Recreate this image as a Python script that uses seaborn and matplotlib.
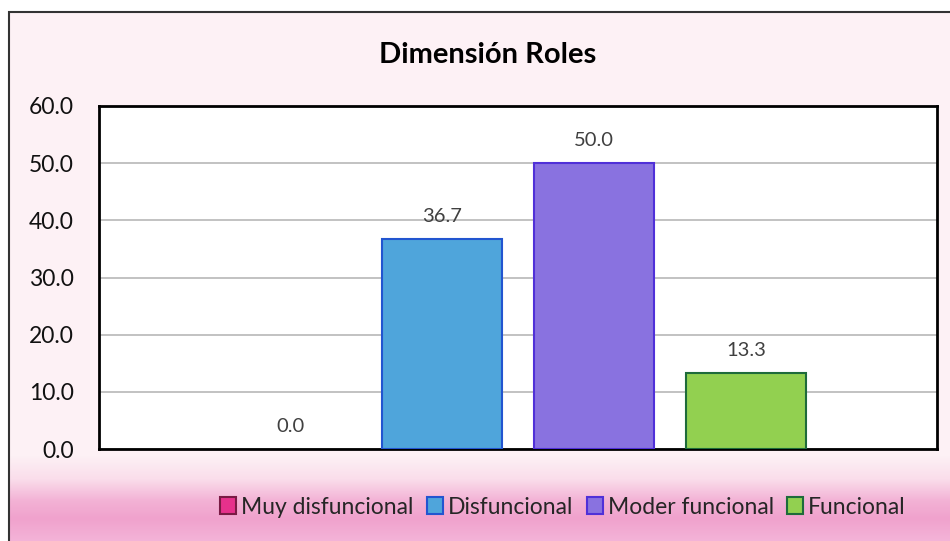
import numpy as np
import matplotlib.pyplot as plt
import seaborn as sns
from matplotlib.patches import Patch, Rectangle
from matplotlib.ticker import FormatStrFormatter

# datos
categorias = ["Muy disfuncional", "Disfuncional", "Moder funcional", "Funcional"]
porcentajes = [0.0, 36.7, 50.0, 13.3]
colores = ["#E6318C", "#4FA5DB", "#8972E0", "#92D050"]
bordes = ["#7A1A45", "#2255D0", "#5030D8", "#1E6B3A"]
ticks_y = [0, 10, 20, 30, 40, 50, 60]
titulo = "Dimensión Roles"

sns.set_style("white")
plt.rcParams['font.family'] = ['Lato', 'DejaVu Sans']

W, H = 950, 541
fig = plt.figure(figsize=(W / 100, H / 100), dpi=100)

# fondo rosado con degradado abajo
bg = fig.add_axes([9 / W, 0, 1, (H - 12) / H], zorder=0)
filas = np.arange(12, H)
stops_y = [12, 455, 478, 500, 518, 541]
stops_c = np.array([[253, 241, 245], [253, 241, 245], [250, 222, 235],
                    [243, 178, 213], [240, 162, 205], [244, 180, 216]]) / 255
grad = np.stack([np.interp(filas, stops_y, stops_c[:, i]) for i in range(3)], axis=1)
bg.imshow(grad[:, None, :], aspect='auto', extent=[0, 1, 0, 1])
bg.axis('off')
fig.add_artist(Rectangle((9 / W, -0.05), 1.2, 1 - 12 / H + 0.05, transform=fig.transFigure,
                         fill=False, edgecolor='#333333', lw=1.5, zorder=5))

# grafico
ax = fig.add_axes([99 / W, 1 - 449 / H, 838 / W, 343 / H], zorder=2)
ax.set_facecolor('white')
sns.barplot(x=categorias, y=porcentajes, hue=categorias, order=categorias,
            hue_order=categorias, palette=colores, saturation=1, width=0.79,
            legend=False, ax=ax, zorder=3)
for cont, b in zip(ax.containers, bordes):
    for p in cont:
        p.set_edgecolor(b)
        p.set_linewidth(1.5 if p.get_height() > 0 else 0)
    ax.bar_label(cont, fmt="%.1f", padding=10, color="#404040", fontsize=14.5)

ax.set_xlim(-1.257, 4.257)
ax.set_ylim(0, 60)
ax.set_yticks(ticks_y)
ax.yaxis.set_major_formatter(FormatStrFormatter('%.1f'))
ax.set_xticks([])
ax.set_xlabel("")
ax.set_ylabel("")
ax.grid(axis='y', color='#BDBDBD', lw=1.3)
ax.set_axisbelow(True)
for s in ax.spines.values():
    s.set_color('black')
    s.set_linewidth(2)
ax.tick_params(axis='y', length=0, labelsize=16.5, pad=18, colors='#111111')

fig.text(488 / W, 1 - 55 / H, titulo, ha='center', va='center', fontsize=21,
         fontweight='bold', color='black')

handles = [Patch(facecolor=c, edgecolor=b, lw=1.5) for c, b in zip(colores, bordes)]
fig.legend(handles, categorias, loc='center', bbox_to_anchor=(563 / W, 1 - 507 / H), ncol=4,
           frameon=False, fontsize=16.5, handlelength=0.7, handleheight=0.7,
           handletextpad=0.2, columnspacing=0.6)

fig.savefig("out.png", dpi=100)
